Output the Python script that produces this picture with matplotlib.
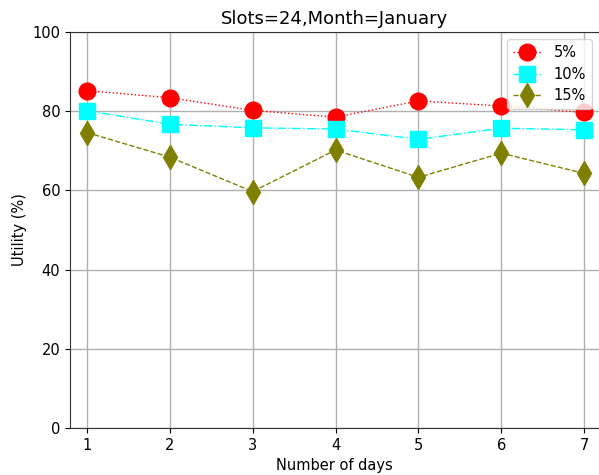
import matplotlib
matplotlib.use("Agg")
import matplotlib.pyplot as plt

days = [1, 2, 3, 4, 5, 6, 7]
util_5 = [85.2, 83.4, 80.2, 78.5, 82.6, 81.3, 79.7]
util_10 = [80.1, 76.7, 75.8, 75.5, 72.9, 75.7, 75.3]
util_15 = [74.6, 68.4, 59.7, 70.2, 63.3, 69.4, 64.3]
labels = ["5%", "10%", "15%"]

fig = plt.figure(figsize=(5.99, 4.75), dpi=100)
ax = fig.add_axes([70/599, 47/475, 529/599, 396/475])

ax.plot(days, util_5, color="red", linestyle=":", marker="o", markersize=12, linewidth=1, label=labels[0])
ax.plot(days, util_10, color="cyan", linestyle="-.", marker="s", markersize=12, linewidth=1, label=labels[1])
ax.plot(days, util_15, color="olive", linestyle="--", marker="d", markersize=12, linewidth=1, label=labels[2])

ax.set_xlim(0.795, 7.18)
ax.set_ylim(0, 100)
ax.set_xticks(days)
ax.set_yticks([0, 20, 40, 60, 80, 100])
ax.grid(True, color="#b0b0b0", linewidth=1)
ax.set_axisbelow(True)
for s in ax.spines.values():
    s.set_color("#333333")
ax.spines["right"].set_visible(False)
ax.tick_params(labelsize=10.5)
ax.set_xlabel("Number of days", fontsize=10.5)
ax.set_ylabel("Utility (%)", fontsize=10.5)
ax.set_title("Slots=24,Month=January", fontsize=13)
ax.legend(loc="upper right", fontsize=10.5, borderaxespad=0.5, labelspacing=0.45)

fig.savefig("out.png", dpi=100)
